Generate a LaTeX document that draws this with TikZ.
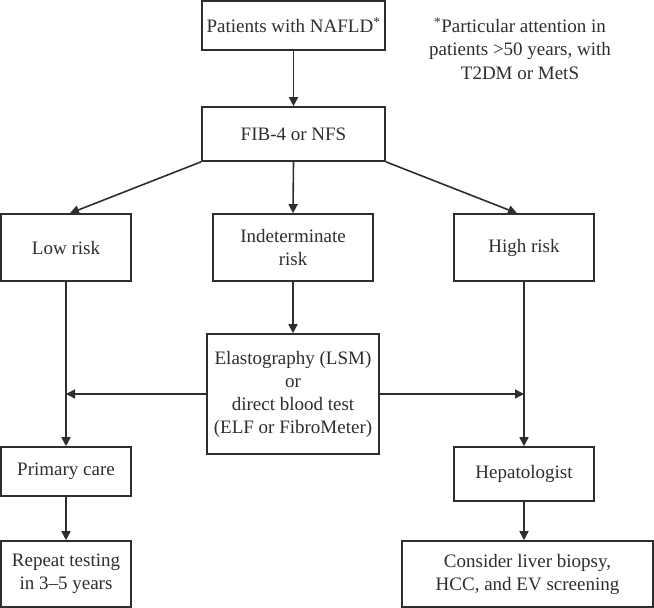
\documentclass[tikz,border=0pt]{standalone}
\usepackage{fontspec}
\setmainfont{Liberation Serif}
\usetikzlibrary{arrows.meta}
\definecolor{ink}{HTML}{2E2E2E}
\begin{document}
\begin{tikzpicture}[x=1pt,y=-1pt,
  box/.style={draw=ink, line width=1.6pt, text=ink, align=center, inner sep=0pt,
    font=\fontsize{19}{23}\selectfont},
  conn/.style={draw=ink, line width=1.6pt, -{Triangle[length=9pt,width=9pt]}},
  plain/.style={draw=ink, line width=1.6pt}]
\useasboundingbox (0,0) rectangle (654,608);
\fill[white] (0,0) rectangle (654,608);
% boxes (centre, width, height in px)
\node[box, minimum width=183pt, minimum height=49pt] (nafld) at (293.5,25.5) {Patients with NAFLD\textsuperscript{*}};
\node[box, minimum width=183pt, minimum height=54pt] (fib) at (293.5,134) {FIB-4 or NFS};
\node[text=ink, align=center, font=\fontsize{19}{23.5}\selectfont] (note) at (520,48.5)
  {\textsuperscript{*}Particular attention in\\patients >50 years, with\\T2DM or MetS};
\node[box, minimum width=130pt, minimum height=67pt] (low) at (66,247.5) {Low risk};
\node[box, minimum width=160pt, minimum height=67pt] (ind) at (293,247.5) {Indeterminate\\risk};
\node[box, minimum width=140pt, minimum height=67pt] (high) at (524,247.5) {High risk};
\node[box, minimum width=172pt, minimum height=120pt] (elast) at (293,394)
  {Elastography (LSM)\\or\\direct blood test\\(ELF or FibroMeter)};
\node[box, minimum width=130pt, minimum height=49pt] (primary) at (66,471.5) {Primary care};
\node[box, minimum width=140pt, minimum height=54pt] (hep) at (524,474) {Hepatologist};
\node[box, minimum width=130pt, minimum height=66pt] (repeat) at (66,574) {Repeat testing\\in 3\textendash5 years};
\node[box, minimum width=251pt, minimum height=66pt] (consider) at (527.5,574)
  {Consider liver biopsy,\\HCC, and EV screening};
% junction points
\coordinate (jl) at (low.south |- elast.west);
\coordinate (jr) at (high.south |- elast.east);
% connectors
\draw[conn] (nafld.south) -- (fib.north);
\draw[conn] (fib.south west) -- ([xshift=4pt]low.north);
\draw[conn] (fib.south) -- (ind.north);
\draw[conn] (fib.south east) -- ([xshift=-7pt]high.north);
\draw[conn] (ind.south) -- (elast.north);
\draw[conn] (low.south) -- (primary.north);
\draw[conn] (elast.west) -- (jl);
\draw[conn] (elast.east) -- (jr);
\draw[conn] (high.south) -- (hep.north);
\draw[conn] (primary.south) -- (repeat.north);
\draw[conn] (hep.south) -- (hep.south |- consider.north);
\end{tikzpicture}
\end{document}
